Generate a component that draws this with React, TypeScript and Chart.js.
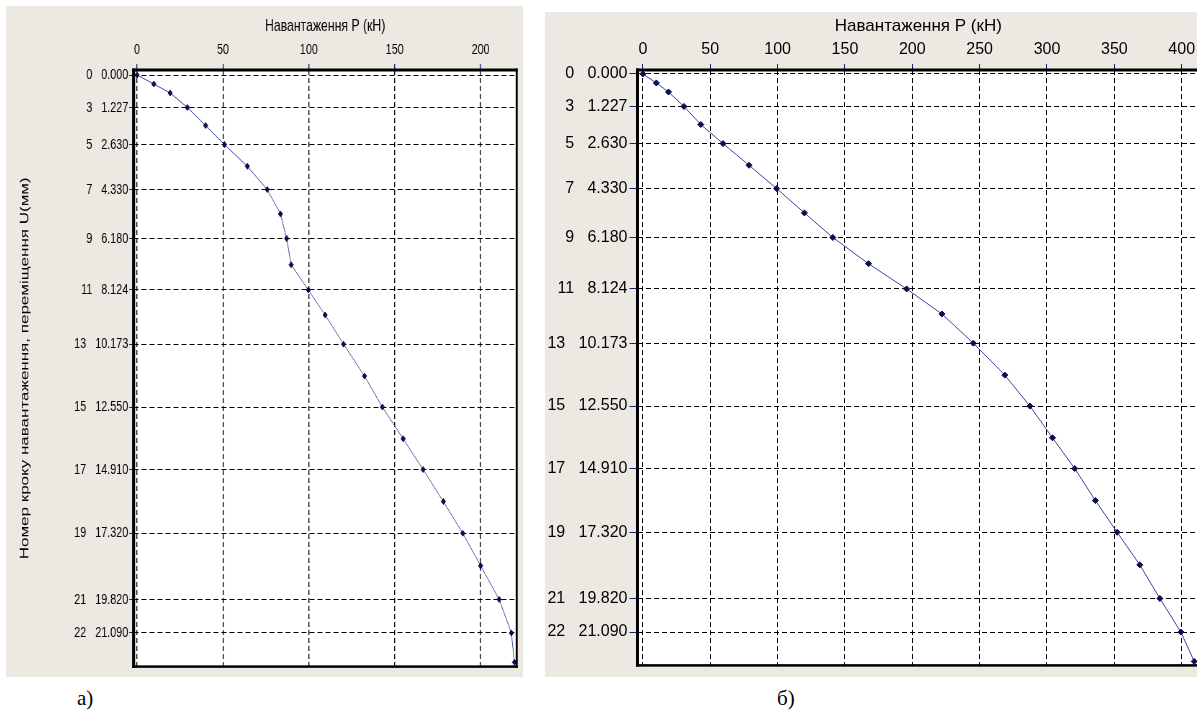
import React, { useEffect, useRef } from "react";
import { Chart, registerables } from "chart.js";

Chart.register(...registerables);

// ---- data ----
const loadSteps = [0, 1, 2, 3, 4, 5, 6, 7, 8, 9, 10, 11, 12, 13, 14, 15, 16, 17, 18, 19, 20, 21, 22, 23];
const displacementU = [0, 0.34, 0.68, 1.227, 1.91, 2.63, 3.45, 4.33, 5.25, 6.18, 7.17, 8.124, 9.07, 10.173, 11.38, 12.55, 13.75, 14.91, 16.12, 17.32, 18.55, 19.82, 21.09, 22.2];
const loadPanelA = [0, 9.8, 19.3, 29.3, 39.9, 50.9, 64.2, 75.8, 83.5, 87.1, 89.7, 99.7, 109.5, 120.2, 132.4, 142.8, 154.9, 166.5, 178.3, 189.6, 200, 210.8, 217.9, 219.7];
const loadPanelB = [0, 10, 19, 30.5, 43, 59.5, 78.8, 99.3, 119.9, 141, 167.5, 195.8, 222, 245.3, 268.7, 287.3, 304.1, 320.6, 335.9, 352.1, 368.9, 383.8, 399.4, 409.3];
const yTickSteps = [0, 3, 5, 7, 9, 11, 13, 15, 17, 19, 21, 22];
const yTickU = [0, 1.227, 2.63, 4.33, 6.18, 8.124, 10.173, 12.55, 14.91, 17.32, 19.82, 21.09];
const xTicksA = [0, 50, 100, 150, 200];
const xTicksB = [0, 50, 100, 150, 200, 250, 300, 350, 400];
const xTitle = "Навантаження P (кН)";
const yTitle = "Номер кроку навантаження, переміщення U(мм)";
const captionA = "а)";
const captionB = "б)";

const PANEL_BG = "#ECE9E3";
const LINE = "#3a4aa6";
const MARK = "#0c0c4e";
const TICKMARK = "#1c1c7a";
const FONT = "'Liberation Sans', Arial, sans-serif";

type Spec = {
  pageX: number; pageY: number; w: number; h: number; squeeze: number;
  chartLeft: number; chartTop: number; padRight: number; padBottom: number;
  xMin: number; xMax: number; yMin: number; yMax: number;
  xTicks: number[]; load: number[];
  tickFont: number; titleFont: number;
  xTitlePad: number; xTickPad: number;
  yTickLen: number; yTickPad: number;
  showYTitle: boolean; yTitlePad: number;
  gap1: number; gap2: number;
  borders: { top: number; left: number; bottom: number; right: number };
};

const specA: Spec = {
  pageX: 6, pageY: 6, w: 718, h: 671, squeeze: 0.72,
  chartLeft: 177.2, chartTop: 64, padRight: 8.7, padBottom: 6,
  xMin: -2, xMax: 221, yMin: -0.19, yMax: 22.36,
  xTicks: xTicksA, load: loadPanelA,
  tickFont: 15, titleFont: 17,
  xTitlePad: 9.8, xTickPad: 5,
  yTickLen: 6, yTickPad: 1.4,
  showYTitle: true, yTitlePad: 16.2,
  gap1: 3, gap2: 3,
  borders: { top: 3, left: 3, bottom: 2.5, right: 2 },
};

const specB: Spec = {
  pageX: 545, pageY: 12, w: 665, h: 665, squeeze: 1,
  chartLeft: 92.5, chartTop: 58, padRight: 10.8, padBottom: 10.3,
  xMin: -4, xMax: 413, yMin: -0.15, yMax: 22.35,
  xTicks: xTicksB, load: loadPanelB,
  tickFont: 16, titleFont: 17,
  xTitlePad: 3.8, xTickPad: 4.4,
  yTickLen: 8, yTickPad: 2,
  showYTitle: false, yTitlePad: 0,
  gap1: 3, gap2: 3,
  borders: { top: 3, left: 3, bottom: 2.5, right: 2 },
};

function makeConfig(p: Spec): any {
  const s = p.squeeze;
  const points = displacementU.map((u, i) => ({ x: p.load[i], y: u, step: loadSteps[i] }));
  const framePlugin = {
    id: "frame",
    beforeDraw(chart: any) {
      const { ctx, width, height, chartArea: a } = chart;
      ctx.save();
      ctx.fillStyle = PANEL_BG;
      ctx.fillRect(0, 0, width, height);
      ctx.fillStyle = "#ffffff";
      ctx.fillRect(a.left, a.top, a.right - a.left, a.bottom - a.top);
      ctx.restore();
    },
    afterDraw(chart: any) {
      const { ctx, chartArea: a } = chart;
      const b = p.borders;
      const lw = b.left / s;
      const rw = b.right / s;
      ctx.save();
      ctx.fillStyle = "#000000";
      ctx.fillRect(a.left - lw / 2, a.top - b.top / 2, a.right - a.left + lw / 2 + rw / 2, b.top);
      ctx.fillRect(a.left - lw / 2, a.bottom - b.bottom / 2, a.right - a.left + lw / 2 + rw / 2, b.bottom);
      ctx.fillRect(a.left - lw / 2, a.top - b.top / 2, lw, a.bottom - a.top + b.top / 2 + b.bottom / 2);
      ctx.fillRect(a.right - rw / 2, a.top - b.top / 2, rw, a.bottom - a.top + b.top / 2 + b.bottom / 2);
      ctx.restore();
    },
  };
  const yLabel = (v: any, i: number) => {
    const st = yTickSteps[i];
    const gap = "\u00a0".repeat(st >= 10 ? p.gap2 : p.gap1);
    return `${st}${gap}${Number(v).toFixed(3)}`;
  };
  return {
    type: "scatter",
    data: {
      datasets: [
        {
          data: points,
          showLine: true,
          borderColor: LINE,
          borderWidth: 1,
          tension: 0,
          pointStyle: "rectRot",
          pointRadius: 3,
          pointHoverRadius: 3,
          pointBackgroundColor: MARK,
          pointBorderColor: MARK,
          pointBorderWidth: 1,
        },
      ],
    },
    options: {
      responsive: false,
      animation: false,
      devicePixelRatio: 1,
      events: [],
      layout: { padding: { left: 0, top: 0, right: p.padRight, bottom: p.padBottom } },
      plugins: { legend: { display: false }, tooltip: { enabled: false }, title: { display: false } },
      scales: {
        x: {
          type: "linear",
          position: "top",
          min: p.xMin,
          max: p.xMax,
          afterBuildTicks: (sc: any) => {
            sc.ticks = p.xTicks.map((v) => ({ value: v }));
          },
          afterFit: (sc: any) => {
            sc.height = p.chartTop;
          },
          ticks: {
            autoSkip: false,
            maxRotation: 0,
            color: "#000",
            padding: p.xTickPad,
            font: { family: FONT, size: p.tickFont },
            callback: (v: any) => String(v),
          },
          grid: {
            color: "#000",
            lineWidth: 1 / s,
            tickColor: TICKMARK,
            tickLength: 6,
            tickWidth: 1 / s,
          },
          border: { display: false, dash: [5, 3] },
          title: {
            display: true,
            text: xTitle,
            color: "#000",
            font: { family: FONT, size: p.titleFont },
            padding: { top: p.xTitlePad, bottom: 0 },
          },
        },
        y: {
          type: "linear",
          position: "left",
          reverse: true,
          min: p.yMin,
          max: p.yMax,
          afterBuildTicks: (sc: any) => {
            sc.ticks = yTickU.map((v) => ({ value: v }));
          },
          afterFit: (sc: any) => {
            sc.width = p.chartLeft;
          },
          ticks: {
            autoSkip: false,
            color: "#000",
            padding: p.yTickPad,
            font: { family: FONT, size: p.tickFont },
            callback: yLabel,
          },
          grid: {
            color: "#000",
            lineWidth: 1,
            tickColor: TICKMARK,
            tickLength: p.yTickLen,
            tickWidth: 1,
          },
          border: { display: false, dash: [5 / s, 3 / s] },
          title: {
            display: p.showYTitle,
            text: yTitle,
            color: "#000",
            font: { family: FONT, size: p.titleFont },
            padding: { top: p.yTitlePad, bottom: 0 },
          },
        },
      },
    },
    plugins: [framePlugin],
  };
}

function Panel({ spec }: { spec: Spec }) {
  const ref = useRef<HTMLCanvasElement | null>(null);
  useEffect(() => {
    if (!ref.current) return;
    const chart = new Chart(ref.current, makeConfig(spec));
    return () => chart.destroy();
  }, [spec]);
  return (
    <canvas
      ref={ref}
      width={spec.w}
      height={spec.h}
      style={{
        position: "absolute",
        left: spec.pageX,
        top: spec.pageY,
        width: spec.w,
        height: spec.h,
        transform: `scaleX(${spec.squeeze})`,
        transformOrigin: "0 0",
      }}
    />
  );
}

export default function App() {
  const caption: React.CSSProperties = {
    position: "absolute",
    fontFamily: "'Liberation Serif', 'Times New Roman', serif",
    fontSize: 21,
    lineHeight: "24px",
    color: "#000",
  };
  return (
    <div
      style={{
        position: "fixed",
        left: 0,
        top: 0,
        width: 1197,
        height: 712,
        overflow: "hidden",
        background: "#ffffff",
      }}
    >
      <Panel spec={specA} />
      <Panel spec={specB} />
      <div style={{ ...caption, left: 77, top: 686 }}>{captionA}</div>
      <div style={{ ...caption, left: 777, top: 686 }}>{captionB}</div>
    </div>
  );
}
